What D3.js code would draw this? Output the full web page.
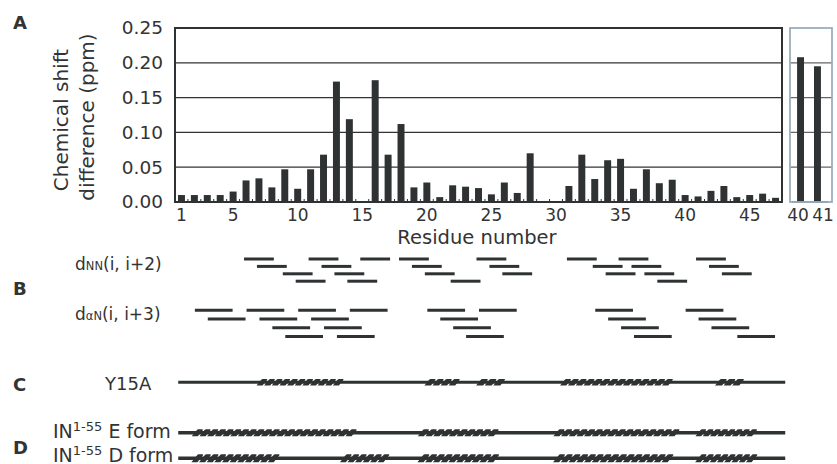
<!DOCTYPE html>
<html>
<head>
<meta charset="utf-8">
<script src="https://cdn.jsdelivr.net/npm/d3@7"></script>
<style>
body { margin: 0; background: #fff; }
svg { display: block; font-family: "DejaVu Sans", sans-serif; }
</style>
</head>
<body>
<svg width="837" height="464"></svg>
<script>
// panel A data
var residues = d3.range(1, 48);
var shift = [0.010, 0.010, 0.010, 0.010, 0.015, 0.031, 0.034, 0.021, 0.047, 0.019,
	0.047, 0.068, 0.173, 0.119, 0, 0.175, 0.068, 0.112, 0.021, 0.028,
	0.007, 0.024, 0.022, 0.020, 0.011, 0.028, 0.013, 0.070, 0, 0,
	0.023, 0.068, 0.033, 0.060, 0.062, 0.019, 0.047, 0.027, 0.032, 0.010,
	0.008, 0.016, 0.023, 0.007, 0.010, 0.012, 0.006];
var insetRes = [40, 41];
var insetShift = [0.208, 0.195];
var yTicks = [0, 0.05, 0.10, 0.15, 0.20, 0.25];
var xTickLabels = [1, 5, 10, 15, 20, 25, 30, 35, 40, 45];

// panel B: NOE connectivities, each group stacks downward
var dNN = [[6, 7, 9, 10], [11, 12, 13, 14], [15], [18, 19, 20, 22], [24, 25, 26],
	[31, 33, 34], [35, 36, 37, 38], [41, 42, 43]];
var dAN = [[2, 3], [6, 7, 8, 9], [10, 11, 12, 13], [14], [20, 21, 22, 23], [24],
	[33, 34, 35, 36], [40, 41, 42, 44]];

// panels C and D: helix ranges (residue numbers)
var backbone = [0.75, 47.75];
var helixY15A = [[7, 13.5], [20, 22.5], [24, 26], [30.5, 39], [42.5, 44.5]];
var helixE = [[2, 14.5], [19.5, 25.5], [30, 39.5], [41, 45.5]];
var helixD = [[2, 8.5], [13.5, 17], [19.5, 25.5], [30, 39], [41, 45.5]];

var ink = "#2f3233", txt = "#333";
var svg = d3.select("svg");

var pTop = 28, pBottom = 202, pLeft = 175, pRight = 782;
var x = d3.scaleBand().domain(residues).range([pLeft, pRight]).paddingInner(0.46).paddingOuter(0.23);
var xr = d3.scaleLinear().domain([0.5, 47.5]).range([pLeft, pRight]);
var y = d3.scaleLinear().domain([0, 0.25]).range([pBottom, pTop]);

// gridlines
svg.append("g").selectAll("line").data(yTicks.slice(1, 5)).enter().append("line")
	.attr("x1", pLeft).attr("x2", pRight)
	.attr("y1", function (d) { return y(d) }).attr("y2", function (d) { return y(d) })
	.attr("stroke", "#333").attr("stroke-width", 1.2);

// bars
svg.append("g").selectAll("rect").data(residues.filter(function (r, i) { return shift[i] > 0 }))
	.enter().append("rect")
	.attr("x", function (r) { return x(r) })
	.attr("width", x.bandwidth())
	.attr("y", function (r) { return y(shift[r - 1]) })
	.attr("height", function (r) { return y(0) - y(shift[r - 1]) })
	.attr("fill", ink);

// frame
svg.append("path")
	.attr("d", "M" + pLeft + "," + pBottom + "V" + pTop + "H" + pRight + "V" + pBottom)
	.attr("fill", "none").attr("stroke", ink).attr("stroke-width", 2);
svg.append("line").attr("x1", pLeft - 1).attr("x2", pRight + 1).attr("y1", pBottom).attr("y2", pBottom)
	.attr("stroke", ink).attr("stroke-width", 2.2);

// small ticks between bars
svg.append("g").selectAll("line").data(d3.range(1, 47)).enter().append("line")
	.attr("x1", function (k) { return xr(k + 0.5) }).attr("x2", function (k) { return xr(k + 0.5) })
	.attr("y1", pBottom).attr("y2", pBottom - 3)
	.attr("stroke", ink).attr("stroke-width", 1);

// axes
var yAxis = svg.append("g").attr("transform", "translate(" + pLeft + ",0)")
	.call(d3.axisLeft(y).tickValues(yTicks).tickFormat(d3.format(".2f")).tickSize(0).tickPadding(12));
yAxis.select(".domain").remove();
yAxis.selectAll("text").attr("font-size", 18.5).attr("fill", txt).attr("font-family", "DejaVu Sans");

var xAxis = svg.append("g").attr("transform", "translate(0," + pBottom + ")")
	.call(d3.axisBottom(x).tickValues(xTickLabels).tickSize(0).tickPadding(7));
xAxis.select(".domain").remove();
xAxis.selectAll("text").attr("font-size", 17).attr("fill", txt).attr("font-family", "DejaVu Sans");

svg.append("text").attr("x", 477).attr("y", 244).attr("text-anchor", "middle")
	.attr("font-size", 19.5).attr("fill", txt).text("Residue number");
svg.append("text").attr("transform", "translate(68,120) rotate(-90)").attr("text-anchor", "middle")
	.attr("font-size", 20).attr("fill", txt).text("Chemical shift");
svg.append("text").attr("transform", "translate(94,117) rotate(-90)").attr("text-anchor", "middle")
	.attr("font-size", 20).attr("fill", txt).text("difference (ppm)");

// inset
var xi = d3.scaleBand().domain(insetRes).range([792, 826]).paddingInner(0.59).paddingOuter(0.3);
var xiLab = d3.scalePoint().domain(insetRes).range([798, 823]);
var inset = svg.append("g");
inset.selectAll("line.g").data(yTicks.slice(1, 5)).enter().append("line")
	.attr("x1", 790).attr("x2", 832)
	.attr("y1", function (d) { return y(d) }).attr("y2", function (d) { return y(d) })
	.attr("stroke", "#666").attr("stroke-width", 1.2);
inset.selectAll("rect.b").data(insetRes).enter().append("rect")
	.attr("x", function (r) { return xi(r) }).attr("width", xi.bandwidth())
	.attr("y", function (r, i) { return y(insetShift[i]) })
	.attr("height", function (r, i) { return y(0) - y(insetShift[i]) })
	.attr("fill", ink);
inset.append("line").attr("x1", 792).attr("x2", 828).attr("y1", pBottom).attr("y2", pBottom)
	.attr("stroke", ink).attr("stroke-width", 1.5);
inset.append("rect").attr("x", 790).attr("y", pTop).attr("width", 42).attr("height", pBottom - pTop)
	.attr("fill", "none").attr("stroke", "#9badbd").attr("stroke-width", 1.8);
inset.selectAll("text").data(insetRes).enter().append("text")
	.attr("x", function (r) { return xiLab(r) }).attr("y", 221.3).attr("text-anchor", "middle")
	.attr("font-size", 17).attr("fill", txt).text(function (r) { return r });

// panel labels
[["A", 29], ["B", 295], ["C", 391], ["D", 454]].forEach(function (p) {
	svg.append("text").attr("x", 13).attr("y", p[1]).attr("font-size", 18)
		.attr("font-weight", "bold").attr("fill", txt).text(p[0]);
});

// panel B
function noeRows(groups, span, y0, dy, ext) {
	var segs = [];
	groups.forEach(function (g) {
		g.forEach(function (i, row) { segs.push({ i: i, row: row }) });
	});
	svg.append("g").selectAll("line").data(segs).enter().append("line")
		.attr("x1", function (d) { return xr(d.i) - ext })
		.attr("x2", function (d) { return xr(d.i + span) + ext })
		.attr("y1", function (d) { return y0 + d.row * dy })
		.attr("y2", function (d) { return y0 + d.row * dy })
		.attr("stroke", ink).attr("stroke-width", 3);
}
noeRows(dNN, 2, 259, 7.4, 2);
noeRows(dAN, 3, 310.2, 8.8, -0.5);

var lab1 = svg.append("text").attr("x", 75).attr("y", 270).attr("font-size", 17).attr("fill", txt);
lab1.append("tspan").text("d");
lab1.append("tspan").attr("font-size", 11.5).text("NN");
lab1.append("tspan").text("(i, i+2)");
var lab2 = svg.append("text").attr("x", 75).attr("y", 320).attr("font-size", 17).attr("fill", txt);
lab2.append("tspan").text("d");
lab2.append("tspan").attr("font-size", 11.5).text("\u03b1N");
lab2.append("tspan").text("(i, i+3)");

// panels C and D
function helixTrack(ranges, yy, h, lw) {
	var g = svg.append("g");
	g.append("line").attr("x1", xr(backbone[0])).attr("x2", xr(backbone[1]))
		.attr("y1", yy).attr("y2", yy).attr("stroke", ink).attr("stroke-width", lw);
	var path = "";
	ranges.forEach(function (r) {
		var x0 = xr(r[0]), x1 = xr(r[1]);
		var n = Math.max(1, Math.round((x1 - x0) / 7.6)), p = (x1 - x0) / n, s = h * 0.75;
		for (var k = 0; k < n; k++) {
			var bx = x0 + k * p, w = p - 1.6;
			// slanted coil turn with a rounded top
			path += "M" + (bx - s / 2) + "," + (yy + h / 2) +
				"L" + (bx + s / 2 - 0.5) + "," + (yy - h / 2 + 1.2) +
				"Q" + (bx + s / 2 + 0.3) + "," + (yy - h / 2) + " " + (bx + s / 2 + 1.5) + "," + (yy - h / 2) +
				"L" + (bx + w + s / 2 - 0.8) + "," + (yy - h / 2) +
				"Q" + (bx + w + s / 2) + "," + (yy - h / 2) + " " + (bx + w + s / 2 - 0.3) + "," + (yy - h / 2 + 1) +
				"L" + (bx + w - s / 2) + "," + (yy + h / 2) + "Z";
		}
	});
	g.append("path").attr("d", path).attr("fill", ink);
}
helixTrack(helixY15A, 382.3, 6.5, 3);
helixTrack(helixE, 432.7, 7, 3.5);
helixTrack(helixD, 458.3, 8, 3.5);

svg.append("text").attr("x", 105).attr("y", 389.5).attr("font-size", 18).attr("fill", txt).text("Y15A");
[["E", 438], ["D", 461.5]].forEach(function (f) {
	var t = svg.append("text").attr("x", 53).attr("y", f[1]).attr("font-size", 19).attr("fill", txt);
	t.append("tspan").text("IN");
	t.append("tspan").attr("font-size", 13).attr("dy", -7).text("1-55");
	t.append("tspan").attr("dy", 7).text(" " + f[0] + " form");
});
</script>
</body>
</html>
